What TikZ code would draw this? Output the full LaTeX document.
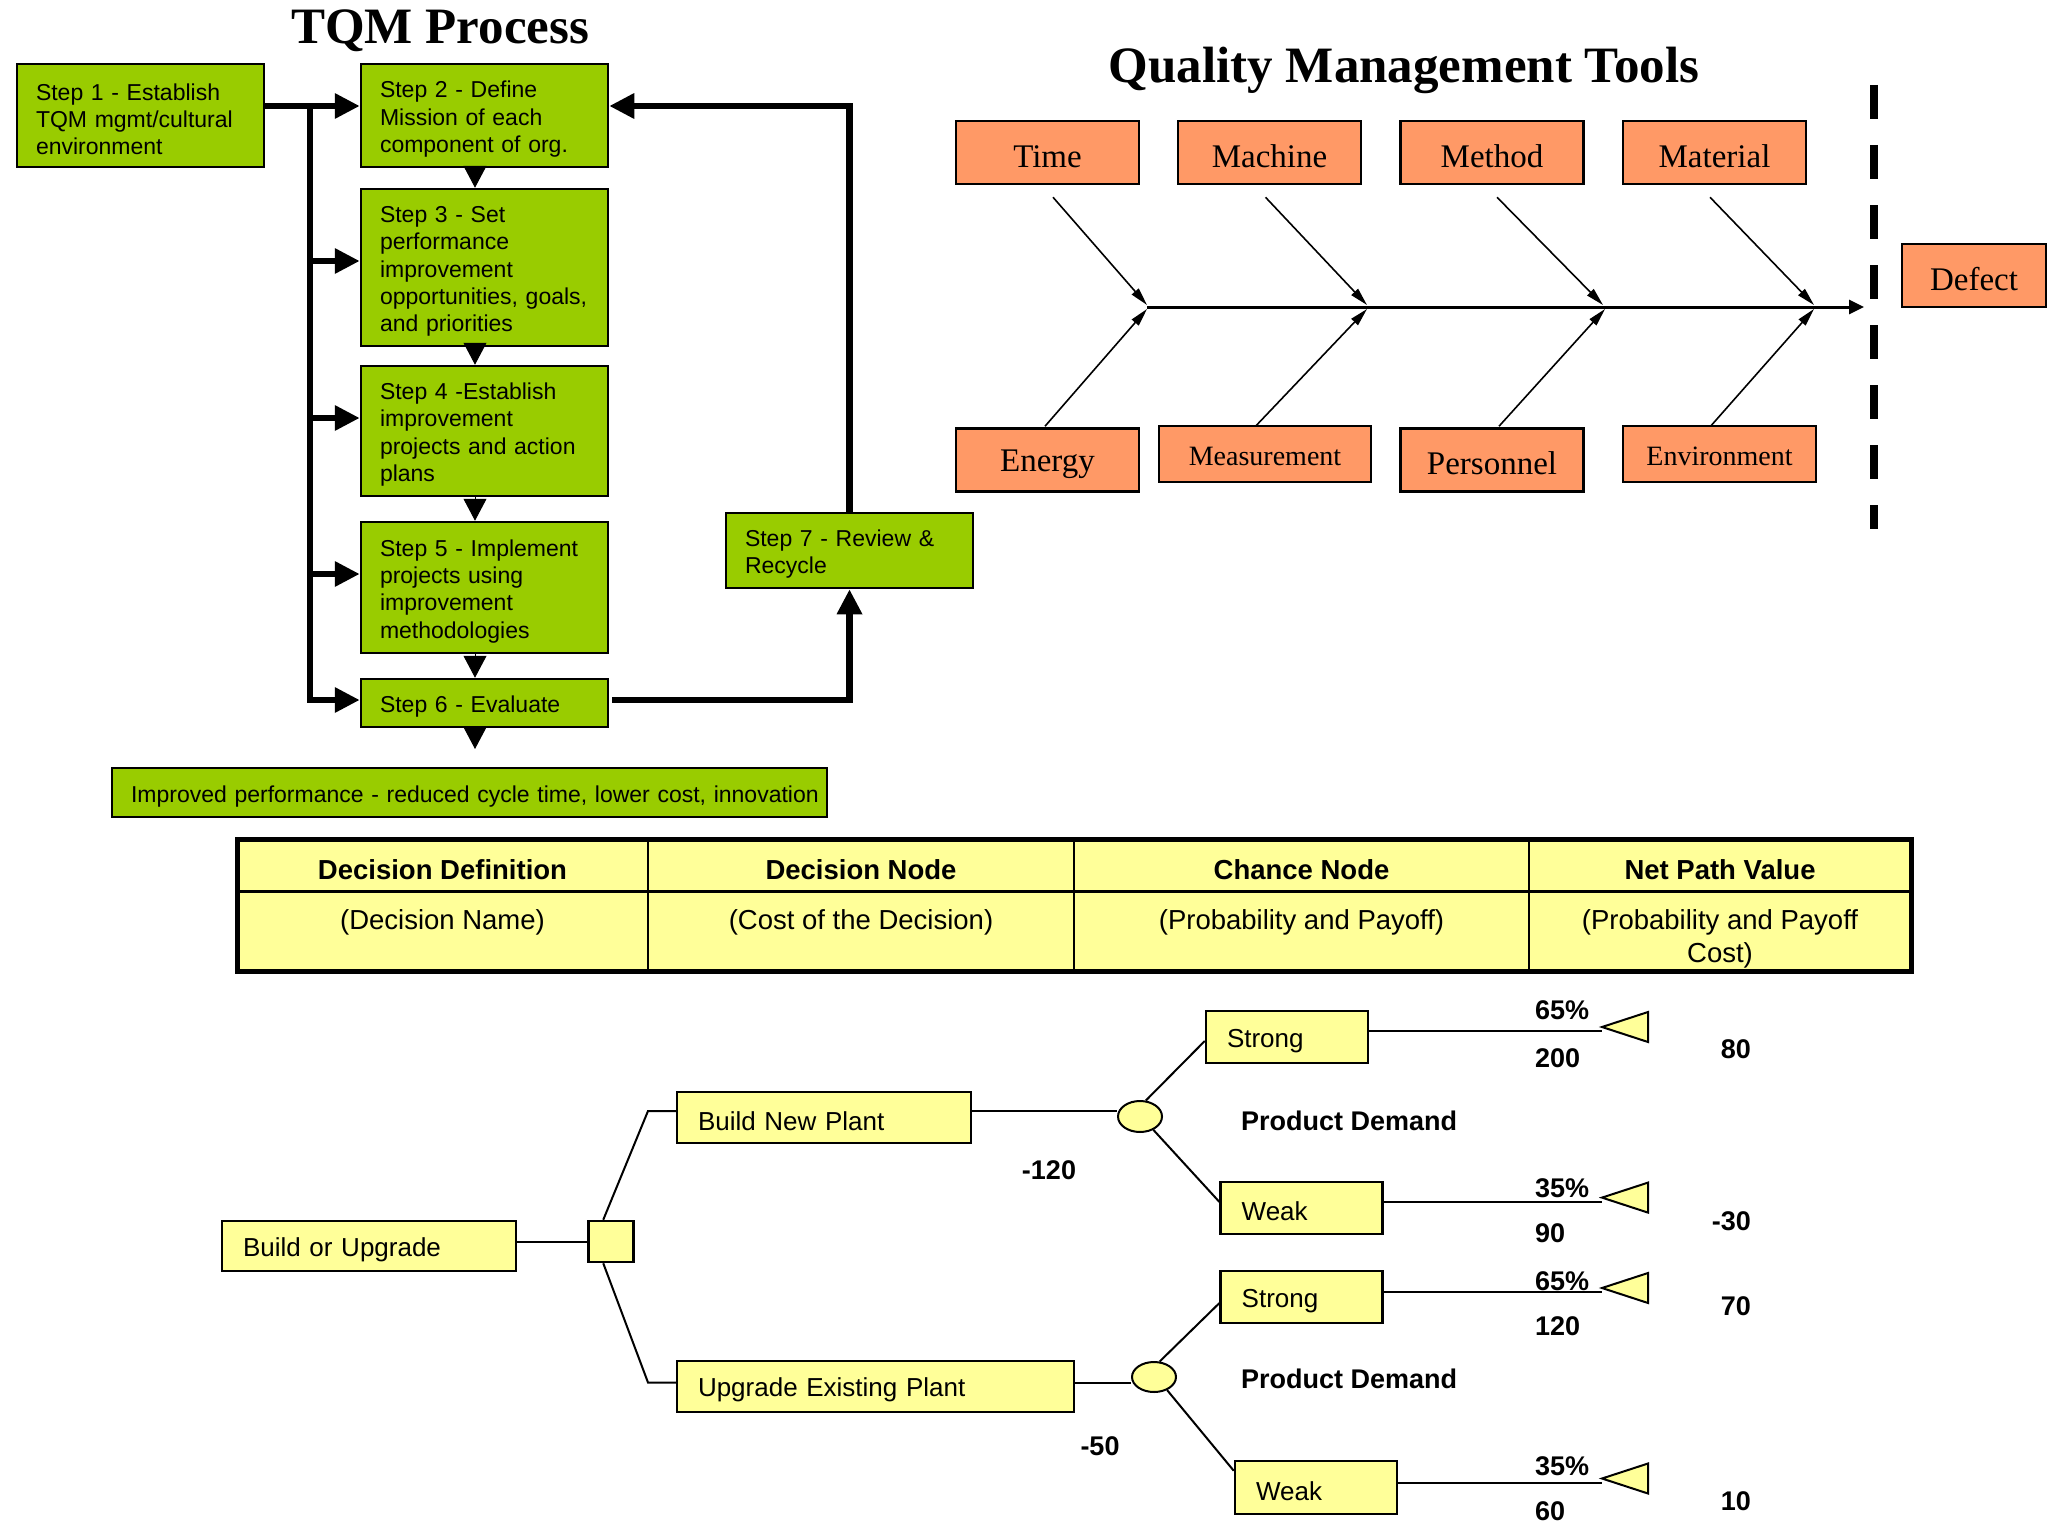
\documentclass[tikz,border=0pt]{standalone}
\usepackage{fontspec}
\setmainfont{Liberation Serif}
\newfontfamily\arial{Liberation Sans}
\usetikzlibrary{arrows.meta,calc,shapes.geometric}
\definecolor{stepgreen}{HTML}{99CC00}
\definecolor{fishorange}{HTML}{FF9966}
\definecolor{treeyellow}{HTML}{FFFF99}
\newcommand\tpstep{\rule{0pt}{24pt}}
\newcommand\tptree{\rule{0pt}{26pt}}
\newcommand\tpfish{\rule{0pt}{30pt}}
\newcommand\tpfishs{\rule{0pt}{24pt}}
\begin{document}
\begin{tikzpicture}[x=1pt,y=-1pt,
  stepbox/.style={draw=black,line width=2.5pt,fill=stepgreen,inner xsep=19pt,inner ysep=0pt,text width=#1,align=left,font=\arial\fontsize{23}{27.3}\selectfont},
  stepbox/.default=209pt,
  thickarrow/.style={line width=6.5pt,-{Triangle[length=25pt,width=24pt]}},
  downarrow/.style={line width=1pt,-{Triangle[length=22pt,width=23pt]}},
  fishbox/.style={draw=black,line width=2.5pt,fill=fishorange,inner sep=0pt,minimum width=183pt,minimum height=63pt,font=\fontsize{33}{38}\selectfont},
  fishsmall/.style={fishbox,minimum height=56pt,font=\fontsize{28}{32}\selectfont},
  rib/.style={line width=1.6pt,-{Triangle[length=18pt,width=9pt]}},
  spine/.style={line width=3pt,-{Triangle[length=15pt,width=14pt]}},
  title/.style={font=\bfseries\fontsize{51}{58}\selectfont,anchor=base,inner sep=0pt},
  thead/.style={font=\arial\bfseries\fontsize{27.5}{33}\selectfont,anchor=base,inner sep=0pt},
  tbody/.style={font=\arial\fontsize{27.5}{33}\selectfont,anchor=base,inner sep=0pt},
  treebox/.style={draw=black,line width=2.5pt,fill=treeyellow,inner xsep=21pt,inner ysep=0pt,text width=#1,align=left,minimum height=51pt,font=\arial\fontsize{26}{31}\selectfont},
  treeline/.style={line width=2pt},
  chance/.style={ellipse,draw=black,line width=2pt,fill=treeyellow,minimum width=44pt,minimum height=31pt,inner sep=0pt},
  val/.style={font=\arial\bfseries\fontsize{27}{32}\selectfont,inner sep=0pt},
  payoff/.style={draw=black,line width=2pt,fill=treeyellow,line join=miter}
]
\useasboundingbox (0,0) rectangle (2048,1536);
\fill[white] (0,0) rectangle (2048,1536);

% ---------------- TQM process ----------------
\node[title] (tqmtitle) at (440,44) {TQM Process};
\node[stepbox,minimum height=103pt] (s1) at (140.5,115.5) {\tpstep Step 1 - Establish\\TQM mgmt/cultural\\environment};
\node[stepbox,minimum height=103pt] (s2) at (484.5,115.5) {\tpstep Step 2 - Define\\Mission of each\\component of org.};
\node[stepbox,minimum height=157pt] (s3) at (484.5,267.5) {\tpstep Step 3 - Set\\performance\\improvement\\opportunities, goals,\\and priorities};
\node[stepbox,minimum height=130pt] (s4) at (484.5,431) {\tpstep Step 4 -Establish\\improvement\\projects and action\\plans};
\node[stepbox,minimum height=131pt] (s5) at (484.5,587.5) {\tpstep Step 5 - Implement\\projects using\\improvement\\methodologies};
\node[stepbox,minimum height=48pt] (s6) at (484.5,703) {\tpstep Step 6 - Evaluate};
\node[stepbox,minimum height=75pt] (s7) at (849.5,550.5) {\tpstep Step 7 - Review \&\\Recycle};
\node[stepbox=677pt,inner xsep=19pt,minimum height=49pt] (imp) at (469.5,792.5) {\mbox{\tpstep Improved performance - reduced cycle time, lower cost, innovation}};

\coordinate (busTop) at (310,106);
\coordinate (busBot) at (310,700);
\coordinate (b3) at (310,261);
\coordinate (b4) at (310,418);
\coordinate (b5) at (310,574);
\coordinate (loopA) at (849.5,700);
\coordinate (loopB) at (849.5,106);
\coordinate (dx) at (475,0);
\coordinate (impArrow) at (475,749);

\draw[thickarrow] (s1.east |- busTop) -- (s2.west |- busTop);
\draw[thickarrow] (busTop) -- (busBot) -- (s6.west |- busBot);
\draw[thickarrow] (b3) -- (s3.west |- b3);
\draw[thickarrow] (b4) -- (s4.west |- b4);
\draw[thickarrow] (b5) -- (s5.west |- b5);
\draw[thickarrow] ([xshift=3pt]s6.east |- busBot) -- (loopA) -- (s7.south);
\draw[thickarrow] (s7.north) -- (loopB) -- (s2.east |- loopB);

\draw[downarrow] (s2.south -| dx) -- (s3.north -| dx);
\draw[downarrow] ([yshift=4pt]s3.south -| dx) -- (s4.north -| dx);
\draw[downarrow] (s4.south -| dx) -- (s5.north -| dx);
\draw[downarrow] (s5.south -| dx) -- (s6.north -| dx);
\draw[downarrow] (s6.south -| dx) -- (impArrow);

% ---------------- Fishbone ----------------
\node[title] (qmtitle) at (1404,83) {Quality Management Tools};
\node[fishbox] (time) at (1047.5,152.5) {\tpfish Time};
\node[fishbox] (machine) at (1269.5,152.5) {\tpfish Machine};
\node[fishbox] (method) at (1492,152.5) {\tpfish Method};
\node[fishbox] (material) at (1714.5,152.5) {\tpfish Material};
\node[fishbox] (energy) at (1047.5,460) {\tpfish Energy};
\node[fishsmall,minimum width=212pt] (measure) at (1265,454) {\tpfishs Measurement};
\node[fishbox] (personnel) at (1492,460) {\tpfish Personnel};
\node[fishsmall,minimum width=193pt] (environ) at (1719.5,454) {\tpfishs Environment};
\node[fishbox,minimum width=144pt] (defect) at (1974,275.5) {\tpfish Defect};

\coordinate (sp1) at (1147,307);
\coordinate (spEnd) at (1864,307);
\coordinate (ta1) at (1147,305);
\coordinate (ta2) at (1367,305);
\coordinate (ta3) at (1603,305);
\coordinate (ta4) at (1814,305);
\coordinate (tb1) at (1147,309);
\coordinate (tb2) at (1367,309);
\coordinate (tb3) at (1605,309);
\coordinate (tb4) at (1814,309);

\draw[spine] (sp1) -- (spEnd);
\draw[rib] ($(time.south)+(5.5,12)$) -- (ta1);
\draw[rib] ($(machine.south)+(-4,12)$) -- (ta2);
\draw[rib] ($(method.south)+(5,12)$) -- (ta3);
\draw[rib] ($(material.south)+(-4.5,12)$) -- (ta4);
\draw[rib] ($(energy.north)+(-2.5,-1)$) -- (tb1);
\draw[rib] ($(measure.north)+(-9,1)$) -- (tb2);
\draw[rib] ($(personnel.north)+(7,-1)$) -- (tb3);
\draw[rib] ($(environ.north)+(-8.5,1)$) -- (tb4);

\coordinate (dashTop) at (1874,85);
\coordinate (dashBot) at (1874,529);
\draw[line width=8pt,dash pattern=on 34pt off 26pt] (dashTop) -- (dashBot);

% ---------------- Table ----------------
\fill[treeyellow] (237,839) rectangle (1911,971);
\draw[line width=3pt] (237,891) -- (1911,891);
\draw[line width=2.5pt] (648,839) -- (648,971);
\draw[line width=2.5pt] (1074,839) -- (1074,971);
\draw[line width=2.5pt] (1529,839) -- (1529,971);
\draw[line width=5pt] (237,839) rectangle (1911,971);
\node[thead] (h1) at (442.5,879) {Decision Definition};
\node[thead] (h2) at (861,879) {Decision Node};
\node[thead] (h3) at (1301.5,879) {Chance Node};
\node[thead] (h4) at (1720,879) {Net Path Value};
\node[tbody] (d1) at (442.5,929) {(Decision Name)};
\node[tbody] (d2) at (861,929) {(Cost of the Decision)};
\node[tbody] (d3) at (1301.5,929) {(Probability and Payoff)};
\node[tbody] (d4) at (1720,929) {(Probability and Payoff};
\node[tbody] (d4b) at (1720,962) {Cost)};

% ---------------- Decision tree ----------------
\node[treebox=252pt,minimum height=50pt] (bu) at (369,1246) {\tptree Build or Upgrade};
\node[draw=black,line width=2.5pt,fill=treeyellow,minimum width=45pt,minimum height=41pt,inner sep=0pt] (sq) at (611,1241.5) {};
\node[treebox=252pt] (bnp) at (824,1117.5) {\tptree Build New Plant};
\node[treebox=355pt] (uep) at (875.5,1386.5) {\tptree Upgrade Existing Plant};
\node[chance] (c1) at (1140,1116.5) {};
\node[chance,minimum height=30pt] (c2) at (1154,1377) {};
\node[treebox=120pt,minimum height=52pt] (st1) at (1287,1037) {\tptree Strong};
\node[treebox=120pt,minimum height=52pt] (wk1) at (1301.7,1208) {\tptree Weak};
\node[treebox=120pt,minimum height=52pt] (st2) at (1301.7,1297) {\tptree Strong};
\node[treebox=120pt,minimum height=53pt] (wk2) at (1316,1487.5) {\tptree Weak};

\coordinate (j1) at (648,1111);
\coordinate (j2) at (648,1382.5);
\draw[treeline] (bu.east |- sq.west) -- (sq.west);
\draw[treeline] ($(sq.north west)+(16,0)$) -- (j1) -- (bnp.west |- j1);
\draw[treeline] ($(sq.south west)+(16,0)$) -- (j2) -- (uep.west |- j2);
\draw[treeline] (bnp.east |- j1) -- (c1.west |- j1);
\draw[treeline] (uep.east |- j2) -- (c2.west |- j2);
\draw[treeline] (c1.70) -- ($(st1.west)+(0,4)$);
\draw[treeline] (c1.-45) -- ($(wk1.west)+(0,-6)$);
\draw[treeline] (c2.70) -- ($(st2.west)+(0,6)$);
\draw[treeline] (c2.-45) -- ($(wk2.north west)+(0,11)$);

\coordinate (t1) at (1602,1031);
\coordinate (t2) at (1602,1201.6);
\coordinate (t3) at (1602,1292);
\coordinate (t4) at (1602,1482.5);
\draw[treeline] (st1.east |- t1) -- (t1);
\draw[treeline] (wk1.east |- t2) -- (t2);
\draw[treeline] (st2.east |- t3) -- (t3);
\draw[treeline] (wk2.east |- t4) -- (t4);
\draw[payoff] ($(t1)+(0,-4)$) -- ++(46,-15) -- ++(0,30) -- cycle;
\draw[payoff] ($(t2)+(0,-4)$) -- ++(46,-15) -- ++(0,30) -- cycle;
\draw[payoff] ($(t3)+(0,-4)$) -- ++(46,-15) -- ++(0,30) -- cycle;
\draw[payoff] ($(t4)+(0,-4)$) -- ++(46,-15) -- ++(0,30) -- cycle;

\node[val] (m120) at (1049,1170) {-120};
\node[val] (m50) at (1100,1446) {-50};
\node[val,anchor=west] (pd1) at (1241,1121) {Product Demand};
\node[val,anchor=west] (pd2) at (1241,1379) {Product Demand};

\node[val,anchor=west] (p1) at (1535,1010) {65\%};
\node[val,anchor=west] (v1) at (1535,1058) {200};
\node[val,anchor=east] (n1) at (1751,1049) {80};
\node[val,anchor=west] (p2) at (1535,1188.5) {35\%};
\node[val,anchor=west] (v2) at (1535,1233.5) {90};
\node[val,anchor=east] (n2) at (1751,1221) {-30};
\node[val,anchor=west] (p3) at (1535,1280.7) {65\%};
\node[val,anchor=west] (v3) at (1535,1325.7) {120};
\node[val,anchor=east] (n3) at (1751,1306) {70};
\node[val,anchor=west] (p4) at (1535,1465.8) {35\%};
\node[val,anchor=west] (v4) at (1535,1511) {60};
\node[val,anchor=east] (n4) at (1751,1501) {10};
\end{tikzpicture}
\end{document}
